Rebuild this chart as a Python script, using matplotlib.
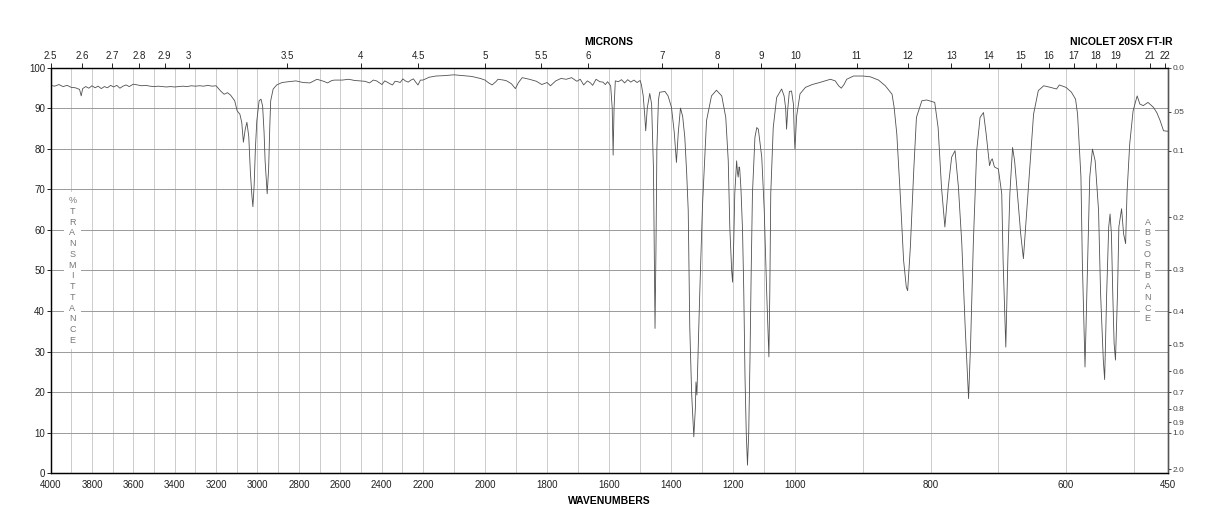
import numpy as np
import matplotlib
matplotlib.use("Agg")
import matplotlib.pyplot as plt

plt.rcParams['font.family'] = ['Liberation Sans', 'DejaVu Sans']

# spectrum (wavenumber cm-1, % transmittance)
wavenumbers = [
    4000, 3980, 3960, 3940, 3920, 3900, 3880, 3860, 3852, 3845, 3830, 3815, 3800,
    3785, 3770, 3755, 3740, 3725, 3710, 3695, 3680, 3665, 3650, 3635, 3620, 3600,
    3580, 3560, 3540, 3520, 3500, 3480, 3460, 3440, 3420, 3400, 3380, 3360, 3340,
    3320, 3300, 3280, 3260, 3240, 3220, 3200, 3178, 3161, 3145, 3130, 3110, 3098,
    3085, 3076, 3068, 3059, 3051, 3042, 3034, 3027, 3022, 3016, 3010, 3003, 2992,
    2983, 2975, 2968, 2963, 2953, 2946, 2940, 2936, 2924, 2907, 2881, 2850, 2814,
    2780, 2746, 2712, 2680, 2661, 2640, 2627, 2590, 2559, 2530, 2508, 2480, 2458,
    2440, 2424, 2410, 2398, 2385, 2373, 2360, 2347, 2335, 2322, 2310, 2297, 2285,
    2271, 2258, 2246, 2235, 2224, 2212, 2200, 2180, 2158, 2130, 2100, 2070, 2043,
    2015, 2000, 1988, 1977, 1965, 1958, 1940, 1930, 1915, 1902, 1892, 1880, 1857,
    1834, 1817, 1800, 1789, 1772, 1755, 1738, 1721, 1704, 1693, 1682, 1670, 1660,
    1653, 1642, 1630, 1620, 1612, 1605, 1595, 1590, 1587, 1584, 1580, 1570, 1560,
    1550, 1540, 1530, 1520, 1510, 1500, 1496, 1490, 1485, 1482, 1477, 1469, 1463,
    1457, 1454, 1452, 1449, 1446, 1441, 1437, 1420, 1410, 1399, 1390, 1383, 1377,
    1370, 1363, 1356, 1350, 1345, 1340, 1334, 1327, 1322, 1320, 1317, 1313, 1308,
    1299, 1286, 1270, 1254, 1237, 1224, 1216, 1211, 1205, 1202, 1198, 1195, 1189,
    1186, 1184, 1181, 1179, 1175, 1170, 1166, 1162, 1158, 1154, 1150, 1146, 1142,
    1138, 1130, 1124, 1119, 1108, 1100, 1092, 1088, 1085, 1082, 1079, 1071, 1060,
    1044, 1036, 1031, 1028, 1024, 1019, 1012, 1006, 1003, 1001, 998, 993, 985,
    975, 964, 948, 941, 936, 932, 928, 924, 914, 900, 889, 877, 867, 857, 854,
    850, 845, 840, 836, 834, 830, 825, 821, 813, 806, 794, 789, 784, 779, 774,
    769, 764, 759, 754, 749, 744, 741, 737, 732, 727, 722, 718, 713, 711, 709,
    706, 705, 700, 695, 693, 689, 686, 683, 679, 676, 671, 667, 663, 658, 653,
    648, 641, 633, 623, 614, 610, 600, 592, 586, 583, 578, 576, 572, 568, 565,
    561, 557, 552, 549, 545, 543, 540, 537, 535, 533, 531, 529, 527, 524, 522,
    518, 515, 512, 510, 506, 501, 495, 491, 486, 479, 471, 466, 461, 456, 450,
]
transmittance = [
    95.6, 95.4, 95.8, 95.3, 95.6, 95.1, 95.0, 94.6, 93.0, 94.8, 95.3, 94.9, 95.5,
    95.0, 95.4, 94.8, 95.3, 95.0, 95.6, 95.2, 95.6, 94.9, 95.4, 95.7, 95.3, 95.9,
    95.7, 95.5, 95.6, 95.4, 95.3, 95.4, 95.3, 95.2, 95.3, 95.2, 95.3, 95.4, 95.3,
    95.5, 95.4, 95.5, 95.4, 95.6, 95.4, 95.5, 94.2, 93.4, 93.8, 93.2, 91.8, 89.3,
    88.5, 86.5, 81.6, 84.8, 86.5, 83.0, 74.0, 68.5, 65.7, 71.0, 80.0, 86.9, 91.8,
    92.2, 90.5, 84.0, 77.0, 68.9, 75.0, 86.0, 91.8, 94.7, 95.7, 96.3, 96.5, 96.7,
    96.3, 96.2, 97.1, 96.6, 96.2, 96.8, 96.9, 96.9, 97.1, 96.8, 96.7, 96.6, 96.2,
    96.9, 96.7, 96.2, 95.8, 96.7, 96.4, 96.0, 95.7, 96.6, 96.5, 96.3, 97.2, 96.7,
    96.4, 96.9, 97.2, 96.4, 95.7, 96.9, 96.9, 97.6, 97.9, 98.0, 98.2, 98.0, 97.8,
    97.3, 96.9, 96.2, 95.7, 96.5, 97.1, 96.9, 96.7, 96.0, 94.8, 96.3, 97.5, 97.1,
    96.6, 95.8, 96.3, 95.5, 96.7, 97.3, 97.1, 97.5, 96.6, 97.1, 95.7, 96.7, 96.2,
    95.6, 97.1, 96.5, 96.4, 95.8, 96.5, 95.5, 90.0, 78.4, 90.0, 96.7, 96.5, 97.0,
    96.2, 97.0, 96.4, 96.9, 96.3, 96.8, 95.8, 93.0, 88.0, 84.4, 90.0, 93.6, 91.0,
    75.0, 50.0, 35.7, 55.0, 80.0, 92.0, 93.9, 94.1, 93.0, 90.2, 84.0, 76.6, 84.0,
    90.0, 88.0, 82.8, 74.0, 64.8, 36.0, 19.7, 9.0, 16.0, 22.5, 19.3, 30.0, 44.0,
    66.0, 86.9, 93.0, 94.4, 93.0, 87.7, 77.0, 60.7, 50.0, 47.1, 58.0, 68.9, 77.0,
    74.0, 73.0, 75.5, 75.0, 70.0, 60.0, 45.0, 23.8, 10.0, 2.0, 10.0, 27.9, 50.0,
    68.9, 82.8, 85.2, 84.8, 77.9, 64.8, 44.3, 35.0, 28.7, 45.0, 68.9, 85.2, 92.6,
    94.7, 93.0, 90.0, 84.8, 90.0, 94.1, 94.2, 91.0, 83.0, 79.9, 88.0, 93.5, 95.1,
    95.8, 96.3, 97.1, 96.7, 95.5, 94.9, 95.8, 97.1, 97.9, 97.9, 97.7, 96.9, 95.5,
    93.4, 90.2, 83.6, 68.9, 52.5, 45.9, 45.0, 55.7, 74.6, 87.7, 91.8, 92.0, 91.4,
    85.2, 70.5, 60.7, 70.5, 77.9, 79.5, 70.5, 56.6, 36.0, 18.4, 32.0, 56.6, 79.5,
    87.7, 88.9, 83.6, 75.8, 77.0, 77.5, 75.6, 75.4, 75.0, 68.9, 52.5, 31.1, 52.5,
    68.9, 80.3, 77.0, 67.2, 59.0, 52.9, 64.8, 77.0, 88.5, 94.3, 95.5, 95.1, 94.7,
    95.7, 95.1, 93.9, 92.2, 88.5, 73.0, 52.5, 26.2, 52.5, 73.0, 79.9, 77.0, 64.8,
    44.3, 28.0, 23.1, 44.3, 60.7, 63.9, 59.0, 44.3, 32.0, 27.9, 44.3, 60.7, 65.2,
    59.0, 56.6, 68.9, 81.1, 89.3, 93.0, 91.0, 90.6, 91.4, 90.2, 88.9, 86.9, 84.4,
    84.3,
]

wn_ticks = [4000, 3800, 3600, 3400, 3200, 3000, 2800, 2600, 2400, 2200,
            2000, 1800, 1600, 1400, 1200, 1000, 800, 600, 450]
micron_ticks = [2.5, 2.6, 2.7, 2.8, 2.9, 3, 3.5, 4, 4.5, 5, 5.5, 6, 7, 8, 9,
                10, 11, 12, 13, 14, 15, 16, 17, 18, 19, 21, 22]
micron_labels = ['2.5', '2.6', '2.7', '2.8', '2.9', '3', '3.5', '4', '4.5', '5',
                 '5.5', '6', '7', '8', '9', '10', '11', '12', '13', '14', '15',
                 '16', '17', '18', '19', '21', '22']
abs_ticks = [0.0, 0.05, 0.1, 0.2, 0.3, 0.4, 0.5, 0.6, 0.7, 0.8, 0.9, 1.0, 2.0]
abs_labels = ['0.0', '.05', '0.1', '0.2', '0.3', '0.4', '0.5', '0.6', '0.7',
              '0.8', '0.9', '1.0', '2.0']

# chart paper: three equal-width sections, 4000-2200, 2200-1000, 1000-450
BREAK_WN = [450, 1000, 2200, 4000]
BREAK_POS = [0.0, 1.0, 2.0, 3.0]


def fwd(x):
    return np.interp(x, BREAK_WN, BREAK_POS)


def inv(p):
    return np.interp(p, BREAK_POS, BREAK_WN)


W, H = 1218, 528
fig = plt.figure(figsize=(W / 100, H / 100), dpi=100)
ax = fig.add_axes([50.6 / W, 1 - 473.3 / H, 1117 / W, 405.8 / H])

ax.set_xscale('function', functions=(fwd, inv))
ax.set_xlim(4000, 450)
ax.set_ylim(0, 100)

ax.plot(wavenumbers, transmittance, color='#505050', lw=0.6, zorder=3)

ax.set_xticks(wn_ticks)
ax.set_xticklabels([str(t) for t in wn_ticks])
ax.set_xticks(list(range(500, 4000, 100)), minor=True)
ax.set_yticks(range(0, 101, 10))
ax.grid(axis='x', which='both', color='#cccccc', lw=0.7)
ax.grid(axis='y', which='major', color='#9a9a9a', lw=0.7)
ax.tick_params(axis='x', which='both', length=0, pad=5, labelsize=7,
               colors='#222222')
ax.tick_params(axis='y', direction='out', length=3, pad=1, labelsize=7,
               colors='#222222', width=0.7)
for s in ax.spines.values():
    s.set_color('#555555')
    s.set_linewidth(1.0)

# microns along the top
ax_top = ax.twiny()
ax_top.set_xscale('function', functions=(fwd, inv))
ax_top.set_xlim(4000, 450)
ax_top.set_xticks([10000 / m for m in micron_ticks])
ax_top.set_xticklabels(micron_labels)
ax_top.xaxis.set_minor_locator(matplotlib.ticker.NullLocator())
ax_top.tick_params(axis='x', direction='out', length=3.5, pad=1, labelsize=7,
                   colors='#222222', width=0.7)
ax_top.spines['top'].set_color('#555555')

# absorbance on the right
ax_r = ax.twinx()
ax_r.set_ylim(0, 100)
ax_r.set_yticks([100 * 10 ** (-a) for a in abs_ticks])
ax_r.set_yticklabels(abs_labels)
ax_r.tick_params(axis='y', direction='out', length=2.5, pad=1, labelsize=6,
                 colors='#444444', width=0.7)
ax_r.spines['right'].set_color('#555555')

ax.text(0.0195, 0.5, '\n'.join('%TRANSMITTANCE'), transform=ax.transAxes,
        ha='center', va='center', fontsize=6.5, color='#777777', linespacing=1.25,
        bbox=dict(facecolor='white', edgecolor='none', pad=3), zorder=4)
ax.text(0.982, 0.5, '\n'.join('ABSORBANCE'), transform=ax.transAxes,
        ha='center', va='center', fontsize=6.5, color='#777777', linespacing=1.25,
        bbox=dict(facecolor='white', edgecolor='none', pad=3), zorder=4)

fig.text(609 / W, 1 - 42 / H, 'MICRONS', ha='center', va='center',
         fontsize=7.5, fontweight='bold')
fig.text(1121 / W, 1 - 42 / H, 'NICOLET 20SX FT-IR', ha='center', va='center',
         fontsize=7.5, fontweight='bold')
fig.text(609 / W, 1 - 501 / H, 'WAVENUMBERS', ha='center', va='center',
         fontsize=7.5, fontweight='bold')

fig.savefig('out.png', dpi=100)
